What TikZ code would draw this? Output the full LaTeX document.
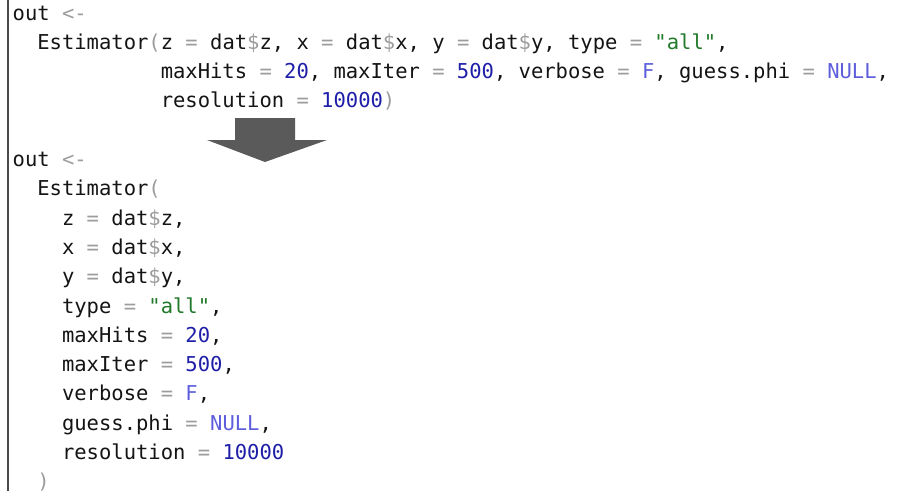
\documentclass[tikz,border=0pt]{standalone}
\usepackage{fontspec}
\newfontfamily\codefont{DejaVu Sans Mono}
\definecolor{codeblack}{HTML}{141414}
\definecolor{opgray}{HTML}{9C9C9C}
\definecolor{numblue}{HTML}{1E1EA8}
\definecolor{cstblue}{HTML}{5E5EDC}
\definecolor{strgreen}{HTML}{217A2A}
\definecolor{bordergray}{HTML}{4A4A4A}
\definecolor{arrowgray}{HTML}{5A5A5A}
\newcommand\opc[1]{\textcolor{opgray}{#1}}
\newcommand\numc[1]{\textcolor{numblue}{#1}}
\newcommand\cstc[1]{\textcolor{cstblue}{#1}}
\newcommand\strc[1]{\textcolor{strgreen}{#1}}
\newcommand\dol{\opc{\$}}
\tikzset{
  codeline/.style={anchor=base west, inner sep=0pt, text=codeblack,
    font=\codefont\fontsize{20.5}{24}\selectfont},
}
\begin{document}
\begin{tikzpicture}[x=1pt,y=-1pt]
\fill[white] (0,0) rectangle (905,490);
\useasboundingbox (0,0) rectangle (905,490);
\draw[line width=2pt, draw=bordergray] (8,-1) -- (8,491);
% first block
\def\cw{12.34}
\def\xo{12.5}
\node[codeline] (a1) at (\xo,20) {out \opc{<-}};
\node[codeline] (a2) at (\xo+2*\cw,49.3) {Estimator\opc{(}z \opc{=} dat\dol z, x \opc{=} dat\dol x, y \opc{=} dat\dol y, type \opc{=} \strc{"all"},};
\node[codeline] (a3) at (\xo+12*\cw,78.6) {maxHits \opc{=} \numc{20}, maxIter \opc{=} \numc{500}, verbose \opc{=} \cstc{F}, guess.phi \opc{=} \cstc{NULL},};
\node[codeline] (a4) at (\xo+12*\cw,107.9) {resolution \opc{=} \numc{10000}\opc{)}};
% arrow
\fill[arrowgray] (235,118) -- (295,118) -- (295,140) -- (327,140) -- (265,162) -- (207,140) -- (235,140) -- cycle;
% second block
\def\ls{29.3}
\node[codeline] (b1) at (\xo,166.5) {out \opc{<-}};
\node[codeline] (b2) at (\xo+2*\cw,166.5+\ls) {Estimator\opc{(}};
\node[codeline] (b3) at (\xo+4*\cw,166.5+2*\ls) {z \opc{=} dat\dol z,};
\node[codeline] (b4) at (\xo+4*\cw,166.5+3*\ls) {x \opc{=} dat\dol x,};
\node[codeline] (b5) at (\xo+4*\cw,166.5+4*\ls) {y \opc{=} dat\dol y,};
\node[codeline] (b6) at (\xo+4*\cw,166.5+5*\ls) {type \opc{=} \strc{"all"},};
\node[codeline] (b7) at (\xo+4*\cw,166.5+6*\ls) {maxHits \opc{=} \numc{20},};
\node[codeline] (b8) at (\xo+4*\cw,166.5+7*\ls) {maxIter \opc{=} \numc{500},};
\node[codeline] (b9) at (\xo+4*\cw,166.5+8*\ls) {verbose \opc{=} \cstc{F},};
\node[codeline] (b10) at (\xo+4*\cw,166.5+9*\ls) {guess.phi \opc{=} \cstc{NULL},};
\node[codeline] (b11) at (\xo+4*\cw,166.5+10*\ls) {resolution \opc{=} \numc{10000}};
\node[codeline] (b12) at (\xo+2*\cw,166.5+11*\ls) {\opc{)}};
\end{tikzpicture}
\end{document}
